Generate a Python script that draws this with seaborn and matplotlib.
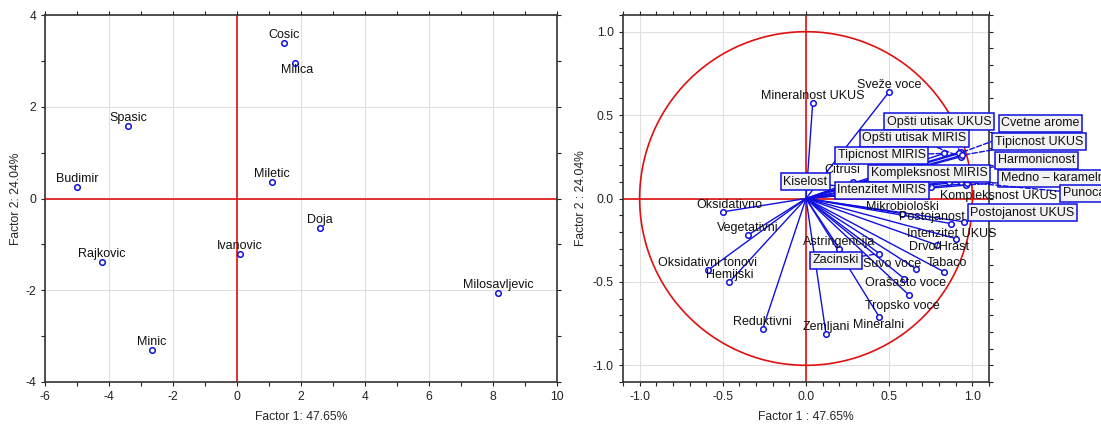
import numpy as np
import pandas as pd
import seaborn as sns
import matplotlib
matplotlib.use("Agg")
import matplotlib.pyplot as plt
from matplotlib.ticker import MultipleLocator, FormatStrFormatter

# ---- score plot (cases) ----
cases = ["Cosic", "Milica", "Spasic", "Budimir", "Miletic", "Rajkovic",
         "Ivanovic", "Minic", "Doja", "Milosavljevic"]
f1_cases = [1.47, 1.80, -3.40, -5.00, 1.10, -4.22, 0.09, -2.67, 2.60, 8.17]
f2_cases = [3.38, 2.95, 1.57, 0.26, 0.37, -1.38, -1.20, -3.30, -0.65, -2.05]

# ---- loading plot (variables) ----
variables = ["Mineralnost UKUS", "Sveže voce", "Citrusi", "Kiselost",
             "Opšti utisak UKUS", "Opšti utisak MIRIS", "Tipicnost MIRIS",
             "Cvetne arome", "Tipicnost UKUS", "Harmonicnost",
             "Kompleksnost MIRIS", "Medno – karamelni", "Intenzitet MIRIS",
             "Punoca", "Kompleksnost UKUS", "Mikrobiološki", "Postojanost",
             "Postojanost UKUS", "Intenzitet UKUS", "Drvo/Hrast", "Tabaco",
             "Suvo voce", "Zacinski", "Astringencija", "Orašasto voce",
             "Tropsko voce", "Mineralni", "Zemljani", "Reduktivni",
             "Hemijski", "Oksidativni tonovi", "Vegetativni", "Oksidativno"]
f1_vars = [0.04, 0.50, 0.28, 0.30,
           0.93, 0.93, 0.83,
           0.92, 0.94, 0.88,
           0.86, 0.96, 0.75,
           0.93, 0.97, 0.58, 0.87,
           0.95, 0.90, 0.79, 0.83,
           0.66, 0.44, 0.20, 0.59,
           0.62, 0.44, 0.12, -0.26,
           -0.46, -0.59, -0.35, -0.50]
f2_vars = [0.57, 0.64, 0.10, 0.06,
           0.28, 0.25, 0.27,
           0.27, 0.26, 0.15,
           0.10, 0.08, 0.07,
           0.10, 0.09, -0.09, -0.15,
           -0.14, -0.24, -0.28, -0.44,
           -0.42, -0.33, -0.30, -0.48,
           -0.58, -0.71, -0.81, -0.78,
           -0.50, -0.43, -0.22, -0.08]

# label placement: boxed labels (data coords of box centre)
boxed = {"Kiselost": (-0.005, 0.10), "Opšti utisak UKUS": (0.80, 0.46),
         "Opšti utisak MIRIS": (0.65, 0.36), "Tipicnost MIRIS": (0.455, 0.26),
         "Cvetne arome": (1.41, 0.45), "Tipicnost UKUS": (1.40, 0.34),
         "Harmonicnost": (1.385, 0.23), "Kompleksnost MIRIS": (0.74, 0.15),
         "Medno – karamelni": (1.49, 0.12), "Intenzitet MIRIS": (0.455, 0.05),
         "Punoca": (1.67, 0.03), "Postojanost UKUS": (1.30, -0.085),
         "Zacinski": (0.18, -0.37)}
# plain labels: offset in pixels from the point (default (0, 7))
offsets = {"Citrusi": (-10, 12), "Kompleksnost UKUS": (31, -13),
           "Postojanost": (-19, 7), "Intenzitet UKUS": (-4, 5),
           "Drvo/Hrast": (2, -2), "Tabaco": (3, 9), "Suvo voce": (-24, 5),
           "Orašasto voce": (1, -4), "Tropsko voce": (-7, -11),
           "Mineralni": (-1, -8), "Oksidativno": (7, 7)}

sns.set_style("ticks")
plt.rcParams["font.family"] = ["Liberation Sans", "DejaVu Sans"]
plt.rcParams["axes.unicode_minus"] = False
FS = 8.7
BLUE = "#1010e0"
RED = "#e01010"

fig = plt.figure(figsize=(11.01, 4.24), dpi=100)
ax1 = fig.add_axes([45 / 1101, 42 / 424, 512 / 1101, 367 / 424])
ax2 = fig.add_axes([623 / 1101, 42 / 424, 366 / 1101, 367 / 424])


def style(ax, major, minor):
    ax.xaxis.set_major_locator(MultipleLocator(major))
    ax.yaxis.set_major_locator(MultipleLocator(major))
    ax.xaxis.set_minor_locator(MultipleLocator(minor))
    ax.yaxis.set_minor_locator(MultipleLocator(minor))
    ax.grid(True, which="major", color="#e0e0e0", lw=0.8)
    ax.set_axisbelow(True)
    ax.tick_params(which="both", labelsize=FS, colors="#222222", direction="out",
                   length=3, width=0.8)
    ax.tick_params(which="both", top=True, right=True, labeltop=False, labelright=False)
    for s in ax.spines.values():
        s.set_color("#333333")
        s.set_linewidth(1.2)


# left panel
score = pd.DataFrame({"case": cases, "f1": f1_cases, "f2": f2_cases})
ax1.axvline(0, color=RED, lw=1.2, zorder=1)
ax1.axhline(0, color=RED, lw=1.2, zorder=1)
sns.scatterplot(data=score, x="f1", y="f2", ax=ax1, s=16, marker="o",
                facecolor="white", edgecolor=BLUE, linewidth=1.1, zorder=3)
for name, x, y in zip(cases, f1_cases, f2_cases):
    dy = -7 if name == "Milica" else 8
    dx = 3 if name == "Milica" else 0
    ax1.annotate(name, (x, y), xytext=(dx, dy), textcoords="offset pixels",
                 ha="center", va="center", fontsize=FS + 0.3, color="#111111")
ax1.set_xlim(-6, 10)
ax1.set_ylim(-4, 4)
style(ax1, 2, 1)
ax1.set_xlabel("Factor 1: 47.65%", fontsize=FS, labelpad=6)
ax1.set_ylabel("Factor 2: 24.04%", fontsize=FS, labelpad=2)

# right panel
load = pd.DataFrame({"var": variables, "f1": f1_vars, "f2": f2_vars})
t = np.linspace(0, 2 * np.pi, 400)
ax2.plot(np.cos(t), np.sin(t), color=RED, lw=1.2, zorder=1)
ax2.axvline(0, color=RED, lw=1.2, zorder=1)
ax2.axhline(0, color=RED, lw=1.2, zorder=1)
for x, y in zip(f1_vars, f2_vars):
    ax2.plot([0, x], [0, y], color=BLUE, lw=1.0, zorder=2)
sns.scatterplot(data=load, x="f1", y="f2", ax=ax2, s=16, marker="o",
                facecolor="white", edgecolor=BLUE, linewidth=1.1, zorder=3)
for name, x, y in zip(variables, f1_vars, f2_vars):
    if name in boxed:
        ax2.annotate(name, (x, y), xytext=boxed[name], textcoords="data",
                     ha="center", va="center", fontsize=FS + 0.3, color="#111111",
                     annotation_clip=False, zorder=4,
                     bbox=dict(boxstyle="square,pad=0.2", fc="#f2f2f2", ec=BLUE, lw=1.1),
                     arrowprops=dict(arrowstyle="-", color=BLUE, lw=1.0, ls="--",
                                     shrinkA=0, shrinkB=2))
    else:
        ax2.annotate(name, (x, y), xytext=offsets.get(name, (0, 7)),
                     textcoords="offset pixels", ha="center", va="center",
                     fontsize=FS + 0.3, color="#111111", annotation_clip=False, zorder=4)
ax2.set_xlim(-1.1, 1.1)
ax2.set_ylim(-1.1, 1.1)
style(ax2, 0.5, 0.1)
ax2.xaxis.set_major_formatter(FormatStrFormatter("%.1f"))
ax2.yaxis.set_major_formatter(FormatStrFormatter("%.1f"))
ax2.set_xlabel("Factor 1 : 47.65%", fontsize=FS, labelpad=6)
ax2.set_ylabel("Factor 2 : 24.04%", fontsize=FS, labelpad=4)

fig.savefig("out.png", dpi=100)
